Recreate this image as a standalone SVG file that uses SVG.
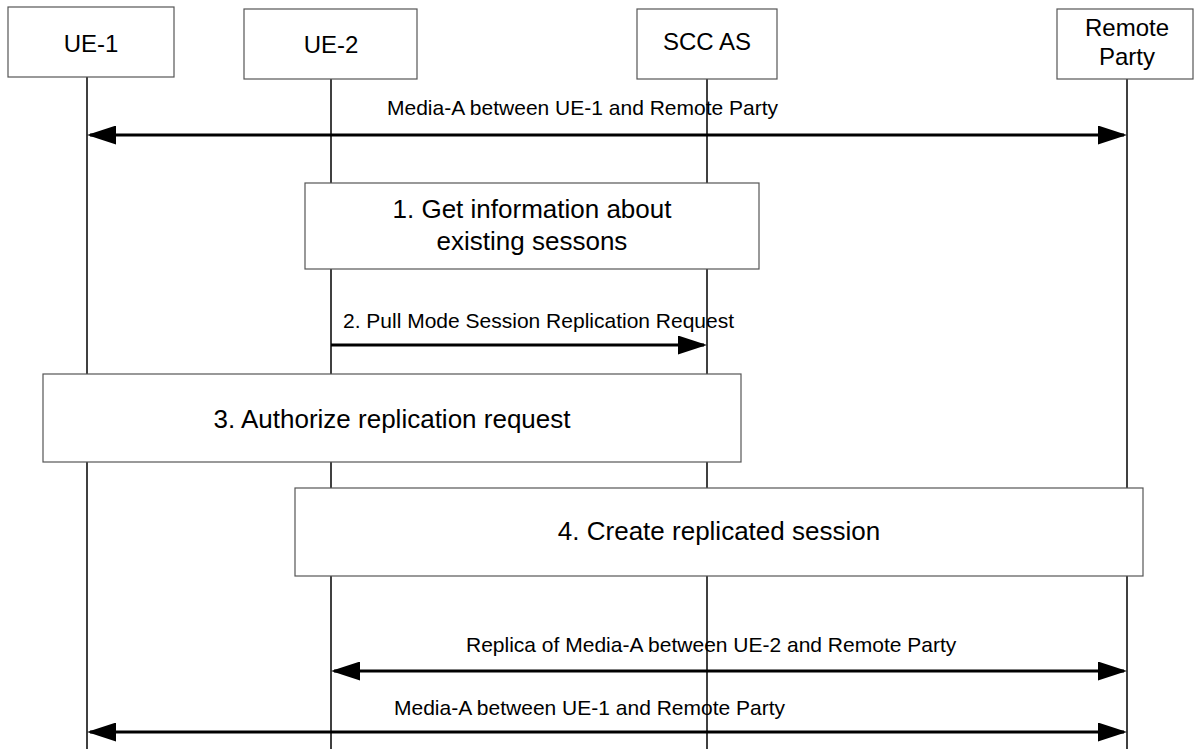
<svg xmlns="http://www.w3.org/2000/svg" width="1194" height="749" viewBox="0 0 1194 749">
<style>
  .box { fill: #ffffff; stroke: #555555; stroke-width: 1.2; }
  .life { stroke: #000000; stroke-width: 1.5; fill: none; }
  .msg { stroke: #000000; stroke-width: 3; fill: none; }
  .nt { font-family: "Liberation Sans", Arial, sans-serif; font-size: 24px; fill: #000; text-anchor: middle; }
  .bt { font-family: "Liberation Sans", Arial, sans-serif; font-size: 26px; fill: #000; text-anchor: middle; }
  .mt { font-family: "Liberation Sans", Arial, sans-serif; font-size: 21px; fill: #000; }
</style>
<defs>
  <marker id="arrow" viewBox="0 0 29 19" refX="26" refY="9.5" markerWidth="29" markerHeight="19" markerUnits="userSpaceOnUse" orient="auto-start-reverse">
    <path d="M0,0 L29,9.5 L0,19 Z" fill="#000"/>
  </marker>
</defs>
<rect width="1194" height="749" fill="#ffffff"/>

<g id="lifelines">
  <line class="life" x1="87" y1="77" x2="87" y2="749"/>
  <line class="life" x1="331" y1="79" x2="331" y2="749"/>
  <line class="life" x1="707" y1="79" x2="707" y2="749"/>
  <line class="life" x1="1127" y1="79" x2="1127" y2="749"/>
</g>

<g id="ue1">
  <rect class="box" x="8" y="7" width="166" height="70"/>
  <text class="nt" x="91" y="52">UE-1</text>
</g>
<g id="ue2">
  <rect class="box" x="244" y="9" width="173" height="70"/>
  <text class="nt" x="331" y="53">UE-2</text>
</g>
<g id="sccas">
  <rect class="box" x="637" y="9" width="140" height="70"/>
  <text class="nt" x="707" y="50">SCC AS</text>
</g>
<g id="remote">
  <rect class="box" x="1057" y="9" width="136" height="70"/>
  <text class="nt" x="1127" y="36">Remote</text>
  <text class="nt" x="1127" y="65">Party</text>
</g>

<g id="step1">
  <rect class="box" x="305" y="183" width="454" height="86"/>
  <text class="bt" x="532" y="218">1. Get information about</text>
  <text class="bt" x="532" y="250">existing sessons</text>
</g>
<g id="step3">
  <rect class="box" x="43" y="374" width="698" height="88"/>
  <text class="bt" x="392" y="428">3. Authorize replication request</text>
</g>
<g id="step4">
  <rect class="box" x="295" y="488" width="848" height="88"/>
  <text class="bt" x="719" y="540">4. Create replicated session</text>
</g>

<g id="connectors">
  <line class="msg" x1="90" y1="135" x2="1124" y2="135" marker-start="url(#arrow)" marker-end="url(#arrow)"/>
  <text class="mt" x="387" y="115">Media-A between UE-1 and Remote Party</text>

  <line class="msg" x1="331" y1="345" x2="704" y2="345" marker-end="url(#arrow)"/>
  <text class="mt" x="343" y="328">2. Pull Mode Session Replication Request</text>

  <line class="msg" x1="334" y1="671" x2="1124" y2="671" marker-start="url(#arrow)" marker-end="url(#arrow)"/>
  <text class="mt" x="466" y="652">Replica of Media-A between UE-2 and Remote Party</text>

  <line class="msg" x1="90" y1="732" x2="1124" y2="732" marker-start="url(#arrow)" marker-end="url(#arrow)"/>
  <text class="mt" x="394" y="715">Media-A between UE-1 and Remote Party</text>
</g>
</svg>
